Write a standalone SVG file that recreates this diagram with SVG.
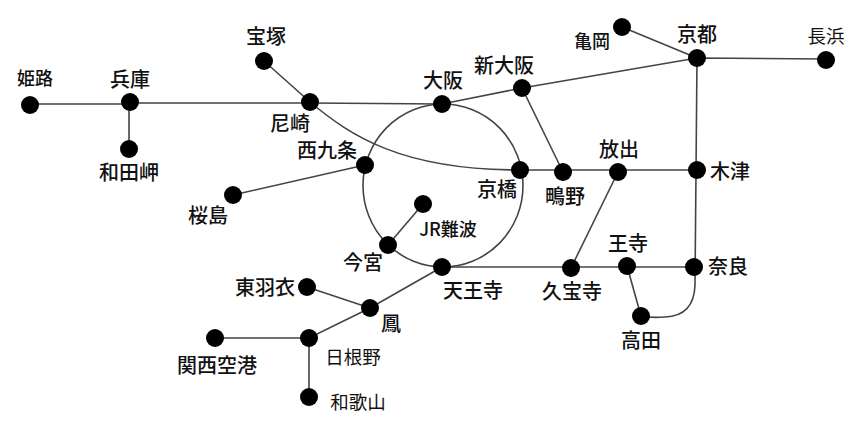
<svg xmlns="http://www.w3.org/2000/svg" width="860" height="426" viewBox="0 0 860 426">
<style>
.n{fill:#000}
.l{fill:none;stroke:#444;stroke-width:1.6}
text{font-family:"Noto Sans CJK JP","Noto Sans CJK SC",sans-serif;font-size:20px;fill:#111;text-anchor:middle;font-weight:500}
.s{font-size:18px}
.t{font-size:18.500px;font-weight:400}
</style>
<rect width="860" height="426" fill="#fff"/>
<g id="connectors">
<path class="l" d="M30 104H129V103H310L442 104L522 88L697 58L826 59"/>
<path class="l" d="M129 102V149"/>
<path class="l" d="M264 61L310 102C350 135 400 170 520 170H697"/>
<path class="l" d="M622 27L697 58"/>
<path class="l" d="M522 88L563 172"/>
<path class="l" d="M618 172L571 268"/>
<path class="l" d="M233 195L365 165"/>
<path class="l" d="M423 204L388 245"/>
<path class="l" d="M442 267L370 308L309 338H215"/>
<path class="l" d="M307 287L370 308"/>
<path class="l" d="M309 338V397"/>
<path class="l" d="M442 267H694"/>
<path class="l" d="M627 266L641 316"/>
<path class="l" d="M697 58L695 285Q694 316 665 317Q650 318 641 316"/>
<ellipse class="l" cx="443" cy="185.500" rx="80" ry="81.500"/>
</g>
<g id="n1"><circle class="n" cx="30" cy="105" r="9"/><text x="35" y="85" class="s">姫路</text></g>
<g id="n2"><circle class="n" cx="130" cy="102" r="9"/><text x="130" y="87">兵庫</text></g>
<g id="n3"><circle class="n" cx="129" cy="149" r="9"/><text x="129" y="180">和田岬</text></g>
<g id="n4"><circle class="n" cx="264" cy="61" r="9"/><text x="266" y="44">宝塚</text></g>
<g id="n5"><circle class="n" cx="310" cy="102" r="9"/><text x="290" y="131">尼崎</text></g>
<g id="n6"><circle class="n" cx="442" cy="104" r="9"/><text x="443" y="88">大阪</text></g>
<g id="n7"><circle class="n" cx="522" cy="88" r="9"/><text x="504" y="73">新大阪</text></g>
<g id="n8"><circle class="n" cx="622" cy="27" r="9"/><text x="592" y="48" class="s">亀岡</text></g>
<g id="n9"><circle class="n" cx="697" cy="58" r="9"/><text x="697" y="42">京都</text></g>
<g id="n10"><circle class="n" cx="826" cy="60" r="9"/><text x="826" y="43" class="t">長浜</text></g>
<g id="n11"><circle class="n" cx="365" cy="165" r="9"/><text x="327" y="158">西九条</text></g>
<g id="n12"><circle class="n" cx="233" cy="195" r="9"/><text x="208" y="223">桜島</text></g>
<g id="n13"><circle class="n" cx="520" cy="170" r="9"/><text x="497" y="197">京橋</text></g>
<g id="n14"><circle class="n" cx="563" cy="172" r="9"/><text x="565" y="204">鴫野</text></g>
<g id="n15"><circle class="n" cx="618" cy="172" r="9"/><text x="619" y="157">放出</text></g>
<g id="n16"><circle class="n" cx="697" cy="170" r="9"/><text x="730" y="179">木津</text></g>
<g id="n17"><circle class="n" cx="423" cy="204" r="9"/><text x="448" y="236" class="s">JR難波</text></g>
<g id="n18"><circle class="n" cx="388" cy="245" r="9"/><text x="363" y="270">今宮</text></g>
<g id="n19"><circle class="n" cx="442" cy="267" r="9"/><text x="473" y="298">天王寺</text></g>
<g id="n20"><circle class="n" cx="571" cy="268" r="9"/><text x="572" y="299">久宝寺</text></g>
<g id="n21"><circle class="n" cx="627" cy="266" r="9"/><text x="628" y="251">王寺</text></g>
<g id="n22"><circle class="n" cx="694" cy="267" r="9"/><text x="728" y="274">奈良</text></g>
<g id="n23"><circle class="n" cx="641" cy="316" r="9"/><text x="641" y="348">高田</text></g>
<g id="n24"><circle class="n" cx="307" cy="287" r="9"/><text x="265" y="295">東羽衣</text></g>
<g id="n25"><circle class="n" cx="370" cy="308" r="9"/><text x="391" y="331">鳳</text></g>
<g id="n26"><circle class="n" cx="309" cy="338" r="9"/><text x="353" y="364" class="t">日根野</text></g>
<g id="n27"><circle class="n" cx="215" cy="338" r="9"/><text x="217" y="373">関西空港</text></g>
<g id="n28"><circle class="n" cx="309" cy="397" r="9"/><text x="358" y="409" class="t">和歌山</text></g>
</svg>
